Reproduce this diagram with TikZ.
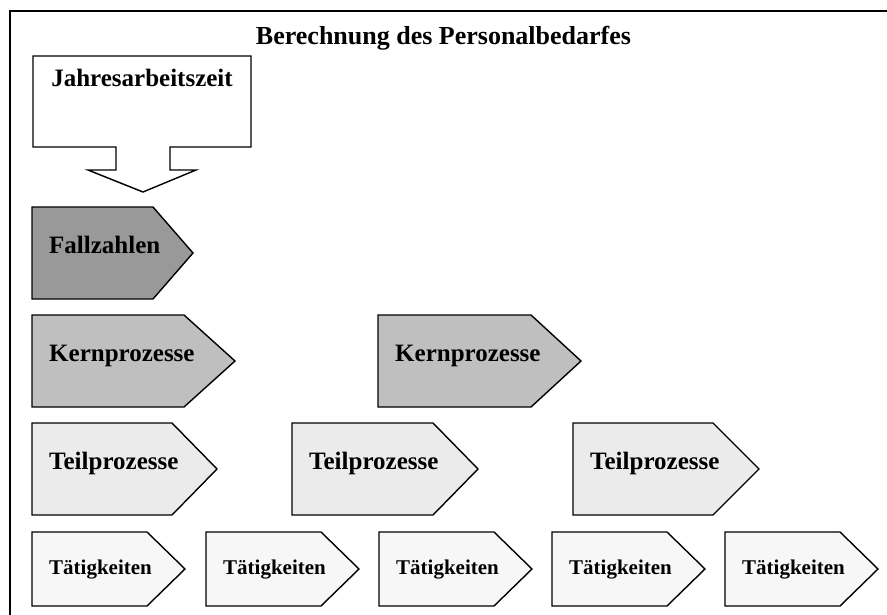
\documentclass[tikz,border=0pt]{standalone}
\usepackage{fontspec}
\setmainfont{Liberation Serif}
\begin{document}
\begin{tikzpicture}[x=1pt,y=-1pt,line join=miter,
  shapeline/.style={draw=black,line width=1.4pt},
  lvlone/.style={shapeline,fill=black!40},
  lvltwo/.style={shapeline,fill=black!25},
  lvlthree/.style={shapeline,fill=black!8},
  lvlfour/.style={shapeline,fill=black!3},
  biglabel/.style={font=\bfseries\fontsize{25}{28}\selectfont,inner sep=0pt,anchor=base west},
  smalllabel/.style={font=\bfseries\fontsize{21}{24}\selectfont,inner sep=0pt,anchor=base west}]
\useasboundingbox (0,0) rectangle (887,615);

% arrow-shaped process box: name, left x, top y, body width, tip length, height, style, label style, text
\newcommand\procbox[9]{%
  \draw[#7] (#2,#3) -- ++(#4,0) -- ++(#5,{#6/2}) -- ++(-#5,{#6/2}) -- ++(-#4,0) -- cycle;
  \node[#8] (#1) at ({#2+17},{#3+#6/2}) {#9};}

% outer frame
\draw[line width=2pt] (10,616) -- (10,11) -- (888,11);

% title
\node[font=\bfseries\fontsize{26}{30}\selectfont,inner sep=0pt,anchor=base] (title) at (443.5,45) {Berechnung des Personalbedarfes};

% annual working time with downward arrow
\draw[shapeline,fill=white] (33,56) -- (251,56) -- (251,147) -- (170,147) -- (170,170) -- (196,170)
  -- (143,192) -- (88,170) -- (116,170) -- (116,147) -- (33,147) -- cycle;
\node[font=\bfseries\fontsize{25}{28}\selectfont,inner sep=0pt,anchor=base] (jaz) at (142,87) {Jahresarbeitszeit};

% case numbers
\procbox{fall}{32}{207}{121}{40}{92}{lvlone}{biglabel}{Fallzahlen}

% core processes
\procbox{kern1}{32}{315}{152}{51}{92}{lvltwo}{biglabel}{Kernprozesse}
\procbox{kern2}{378}{315}{153}{50}{92}{lvltwo}{biglabel}{Kernprozesse}

% sub-processes
\procbox{teil1}{32}{423}{140}{45}{92}{lvlthree}{biglabel}{Teilprozesse}
\procbox{teil2}{292}{423}{141}{45}{92}{lvlthree}{biglabel}{Teilprozesse}
\procbox{teil3}{573}{423}{140}{46}{92}{lvlthree}{biglabel}{Teilprozesse}

% activities
\newcommand\actbox[2]{%
  \draw[lvlfour] (#2,532) -- ++(115,0) -- ++(38,37) -- ++(-38,37) -- ++(-115,0) -- cycle;
  \node[smalllabel] (#1) at ({#2+17},574) {Tätigkeiten};}
\actbox{act1}{32}
\actbox{act2}{206}
\actbox{act3}{379}
\actbox{act4}{552}
\actbox{act5}{725}
\end{tikzpicture}
\end{document}
